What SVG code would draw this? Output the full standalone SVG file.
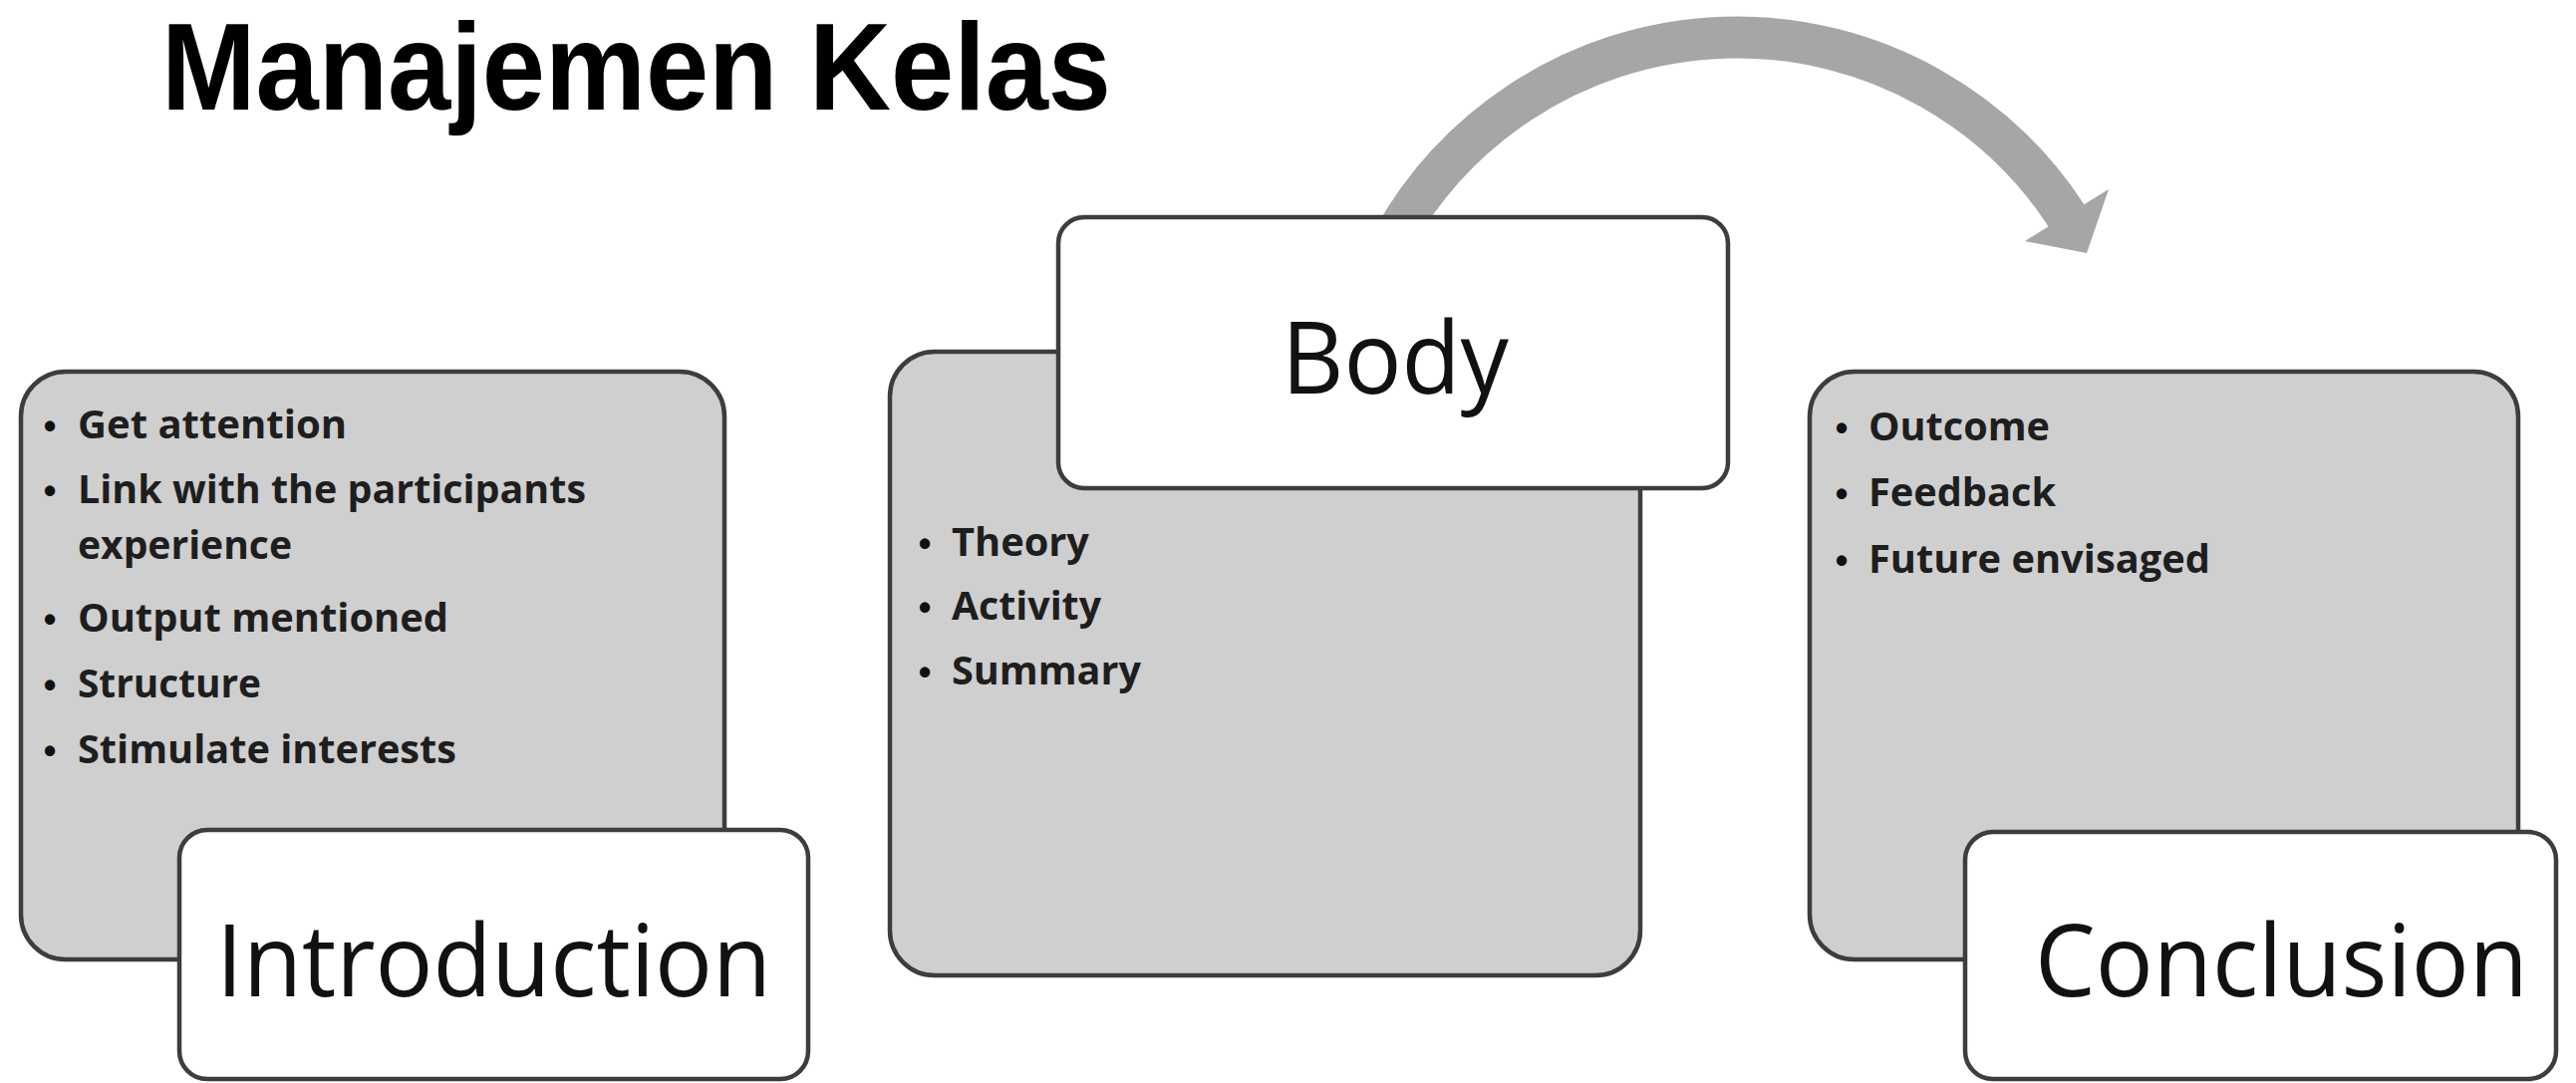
<svg xmlns="http://www.w3.org/2000/svg" width="2585" height="1087" viewBox="0 0 2585 1087">
<style>
.detail{fill:#cfcfcf;stroke:#3d3d3d;stroke-width:4.5}
.label{fill:#ffffff;stroke:#3d3d3d;stroke-width:4.5}
.big{font-family:"Open Sans","Noto Sans","Liberation Sans",sans-serif;font-weight:400;font-size:100px;fill:#111}
.item{font-family:"Open Sans","Noto Sans","Liberation Sans",sans-serif;font-weight:700;font-size:40px;fill:#1e1e1e}
.dot{font-family:"Liberation Sans",sans-serif;font-weight:700;font-size:36px;fill:#111;text-anchor:middle}
.title{font-family:"Liberation Sans",Arial,sans-serif;font-weight:700;font-size:124px;fill:#000}
</style>
<rect width="2585" height="1087" fill="#ffffff"/>
<text class="title" x="162" y="110" textLength="953" lengthAdjust="spacingAndGlyphs">Manajemen Kelas</text>
<g id="connectors">
<path d="M 1398 240 A 395 395 0 0 1 2074 217" fill="none" stroke="#a6a6a6" stroke-width="42"/>
<polygon points="2032,242 2116,190 2094,254" fill="#a6a6a6"/>
</g>
<g id="introduction">
<rect class="detail" x="21" y="373" width="706" height="590" rx="45" ry="45"/>
<text class="dot" x="50" y="440">•</text><text class="item" x="78" y="440" textLength="270" lengthAdjust="spacingAndGlyphs">Get attention</text>
<text class="dot" x="50" y="505">•</text><text class="item" x="78" y="505" textLength="510" lengthAdjust="spacingAndGlyphs">Link with the participants</text>
<text class="item" x="78" y="561" textLength="215" lengthAdjust="spacingAndGlyphs">experience</text>
<text class="dot" x="50" y="634">•</text><text class="item" x="78" y="634" textLength="372" lengthAdjust="spacingAndGlyphs">Output mentioned</text>
<text class="dot" x="50" y="700">•</text><text class="item" x="78" y="700" textLength="184" lengthAdjust="spacingAndGlyphs">Structure</text>
<text class="dot" x="50" y="766">•</text><text class="item" x="78" y="766" textLength="380" lengthAdjust="spacingAndGlyphs">Stimulate interests</text>
<rect class="label" x="180" y="833" width="631" height="250" rx="28" ry="28"/>
<text class="big" x="217" y="1000" textLength="557" lengthAdjust="spacingAndGlyphs">Introduction</text>
</g>
<g id="body">
<rect class="detail" x="893" y="353" width="753" height="626" rx="45" ry="45"/>
<text class="dot" x="928" y="558">•</text><text class="item" x="955" y="558" textLength="138" lengthAdjust="spacingAndGlyphs">Theory</text>
<text class="dot" x="928" y="622">•</text><text class="item" x="955" y="622" textLength="150" lengthAdjust="spacingAndGlyphs">Activity</text>
<text class="dot" x="928" y="687">•</text><text class="item" x="955" y="687" textLength="190" lengthAdjust="spacingAndGlyphs">Summary</text>
<rect class="label" x="1062" y="218" width="672" height="272" rx="26" ry="26"/>
<text class="big" x="1286" y="395" textLength="228" lengthAdjust="spacingAndGlyphs">Body</text>
</g>
<g id="conclusion">
<rect class="detail" x="1816" y="373" width="711" height="590" rx="45" ry="45"/>
<text class="dot" x="1848" y="442">•</text><text class="item" x="1875" y="442" textLength="182" lengthAdjust="spacingAndGlyphs">Outcome</text>
<text class="dot" x="1848" y="508">•</text><text class="item" x="1875" y="508" textLength="188" lengthAdjust="spacingAndGlyphs">Feedback</text>
<text class="dot" x="1848" y="575">•</text><text class="item" x="1875" y="575" textLength="343" lengthAdjust="spacingAndGlyphs">Future envisaged</text>
<rect class="label" x="1972" y="835" width="593" height="248" rx="28" ry="28"/>
<text class="big" x="2042" y="1000" textLength="495" lengthAdjust="spacingAndGlyphs">Conclusion</text>
</g>
</svg>
